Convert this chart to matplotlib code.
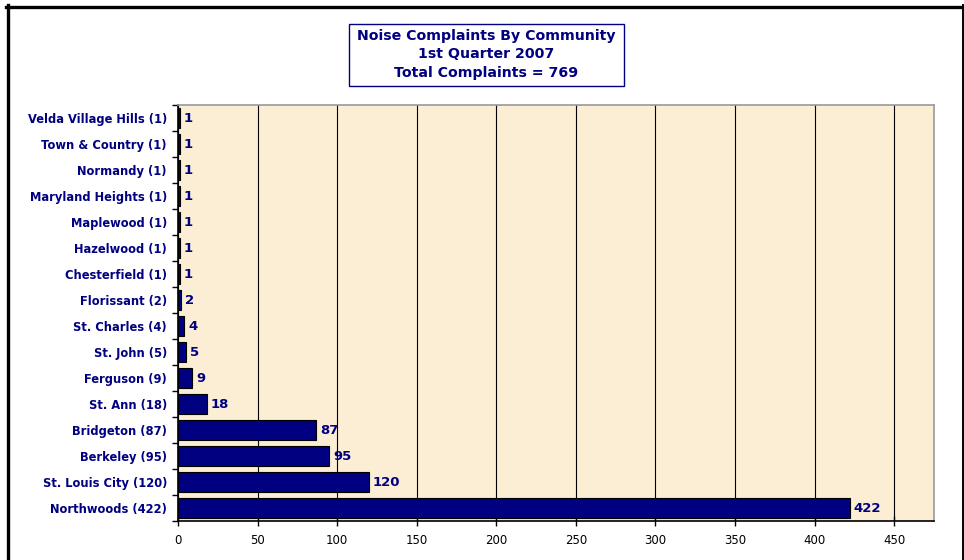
import matplotlib
matplotlib.use('Agg')
import matplotlib.pyplot as plt
from matplotlib.patches import Rectangle

communities = ['Northwoods (422)', 'St. Louis City (120)', 'Berkeley (95)',
               'Bridgeton (87)', 'St. Ann (18)', 'Ferguson (9)', 'St. John (5)',
               'St. Charles (4)', 'Florissant (2)', 'Chesterfield (1)',
               'Hazelwood (1)', 'Maplewood (1)', 'Maryland Heights (1)',
               'Normandy (1)', 'Town & Country (1)', 'Velda Village Hills (1)']
complaints = [422, 120, 95, 87, 18, 9, 5, 4, 2, 1, 1, 1, 1, 1, 1, 1]
xticks = [0, 50, 100, 150, 200, 250, 300, 350, 400, 450]

navy = '#000080'
plt.rcParams['font.family'] = ['DejaVu Sans']

fig = plt.figure(figsize=(9.64, 5.6), dpi=100)
fig.patch.set_facecolor('white')
# chart frame (left, top and right edges)
fig.add_artist(plt.Line2D([7.5 / 964, 7.5 / 964], [0, 1 - 5 / 560],
                          color='black', lw=2.4, transform=fig.transFigure))
fig.add_artist(plt.Line2D([6 / 964, 963 / 964], [1 - 6.5 / 560, 1 - 6.5 / 560],
                          color='black', lw=2.4, transform=fig.transFigure))
fig.add_artist(plt.Line2D([962.5 / 964, 962.5 / 964], [0, 1 - 5 / 560],
                          color='black', lw=1.4, transform=fig.transFigure))

ax = fig.add_axes([178 / 964, 1 - 521 / 560, (934 - 178) / 964, (521 - 105) / 560])
ax.set_facecolor('#FCEED4')
ypos = list(range(len(communities)))
ax.barh(ypos, complaints, height=0.78, color=navy, edgecolor='black', linewidth=0.8, zorder=3)
for y, v in zip(ypos, complaints):
    ax.text(v + 2.5, y, str(v), va='center', ha='left', color=navy,
            fontsize=9.5, fontweight='bold', zorder=4)

ax.set_xlim(0, 475)
ax.set_ylim(-0.5, len(communities) - 0.5)
ax.set_xticks(xticks)
ax.set_yticks([y - 0.5 for y in ypos] + [len(ypos) - 0.5], minor=False)
ax.set_yticklabels([])
ax.set_yticks(ypos, minor=True)
ax.set_yticklabels(communities, minor=True)
ax.tick_params(axis='y', which='minor', length=0, pad=8, labelsize=8.3,
               labelcolor=navy)
for t in ax.get_yticklabels(minor=True):
    t.set_fontweight('bold')
ax.tick_params(axis='y', which='major', direction='out', length=4, width=1)
ax.tick_params(axis='x', direction='inout', length=7, width=1, labelsize=8.5, pad=6)
ax.grid(axis='x', color='black', linewidth=0.8, zorder=1)
for s in ['left', 'bottom']:
    ax.spines[s].set_color('black')
    ax.spines[s].set_linewidth(1.2)
for s in ['top', 'right']:
    ax.spines[s].set_color('#999999')
    ax.spines[s].set_linewidth(1.2)

fig.text(486.5 / 964, 1 - 54.5 / 560,
         'Noise Complaints By Community\n1st Quarter 2007\nTotal Complaints = 769',
         ha='center', va='center', color=navy, fontsize=10.2, fontweight='bold',
         linespacing=1.38)
fig.add_artist(Rectangle((349 / 964, 1 - 86 / 560), (624 - 349) / 964, 62 / 560,
                         fill=False, edgecolor=navy, linewidth=1.0,
                         transform=fig.transFigure))

fig.savefig('out.png', dpi=100)
